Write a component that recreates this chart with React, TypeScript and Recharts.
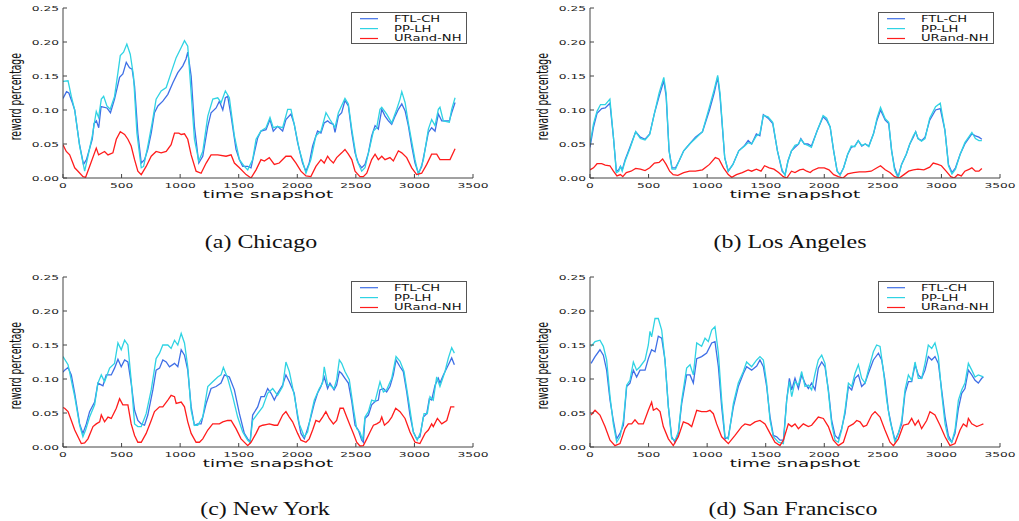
import { Legend, Line, LineChart, XAxis, YAxis } from "recharts";

type Pt = [number, number];

const xTicks = [0, 500, 1000, 1500, 2000, 2500, 3000, 3500];
const yTicks = [0, 0.05, 0.1, 0.15, 0.2, 0.25];
const seriesNames = ["FTL-CH", "PP-LH", "URand-NH"];
const seriesColors = ["#3f6fe6", "#2fd3e3", "#ff1c1c"];

// (a) Chicago
const chicagoFtl: Pt[] = [
  [0, 0.117], [30, 0.127], [50, 0.125], [75, 0.113], [100, 0.1], [140, 0.05], [175, 0.02], [200, 0.027],
  [250, 0.057], [265, 0.08], [285, 0.084], [305, 0.074], [325, 0.105], [375, 0.103], [405, 0.096], [440, 0.116],
  [483, 0.148], [511, 0.153], [540, 0.17], [568, 0.162], [590, 0.16], [611, 0.135], [639, 0.066], [668, 0.022],
  [696, 0.027], [724, 0.042], [753, 0.066], [781, 0.096], [810, 0.106], [852, 0.113], [895, 0.123], [938, 0.14],
  [980, 0.155], [1023, 0.165], [1050, 0.175], [1065, 0.185], [1094, 0.15], [1122, 0.076], [1159, 0.022],
  [1193, 0.032], [1236, 0.076], [1264, 0.096], [1307, 0.103], [1335, 0.113], [1364, 0.1], [1386, 0.118],
  [1406, 0.12], [1435, 0.091], [1477, 0.042], [1506, 0.027], [1534, 0.017], [1577, 0.017], [1605, 0.015],
  [1633, 0.037], [1662, 0.059], [1690, 0.069], [1733, 0.071], [1767, 0.086], [1795, 0.069], [1832, 0.076],
  [1875, 0.069], [1903, 0.086], [1946, 0.094], [1974, 0.079], [2003, 0.052], [2045, 0.022], [2074, 0.01],
  [2102, 0.022], [2131, 0.047], [2173, 0.069], [2202, 0.066], [2230, 0.081], [2259, 0.084], [2279, 0.081],
  [2308, 0.079], [2322, 0.067], [2351, 0.091], [2379, 0.096], [2407, 0.114], [2436, 0.106], [2465, 0.067],
  [2493, 0.037], [2521, 0.022], [2550, 0.015], [2578, 0.02], [2607, 0.037], [2635, 0.062], [2664, 0.077],
  [2692, 0.072], [2721, 0.101], [2749, 0.091], [2778, 0.084], [2806, 0.079], [2835, 0.091], [2863, 0.101],
  [2892, 0.109], [2920, 0.099], [2948, 0.077], [2977, 0.047], [3005, 0.022], [3034, 0.007], [3062, 0.017],
  [3091, 0.042], [3119, 0.067], [3147, 0.074], [3176, 0.069], [3204, 0.094], [3233, 0.084], [3261, 0.084],
  [3298, 0.084], [3318, 0.096], [3347, 0.111],
];
const chicagoPp: Pt[] = [
  [0, 0.142], [43, 0.143], [71, 0.12], [100, 0.1], [142, 0.047], [185, 0.01], [213, 0.032], [250, 0.062],
  [284, 0.098], [304, 0.089], [327, 0.116], [347, 0.12], [375, 0.106], [403, 0.101], [440, 0.12], [469, 0.155],
  [489, 0.18], [517, 0.185], [545, 0.197], [574, 0.182], [602, 0.15], [631, 0.066], [668, 0.015], [688, 0.017],
  [724, 0.047], [761, 0.081], [795, 0.116], [838, 0.128], [881, 0.133], [923, 0.155], [966, 0.177], [1009, 0.192],
  [1037, 0.202], [1065, 0.194], [1094, 0.125], [1122, 0.057], [1159, 0.025], [1193, 0.039], [1236, 0.091],
  [1279, 0.116], [1321, 0.118], [1350, 0.111], [1386, 0.128], [1420, 0.118], [1463, 0.062], [1506, 0.027],
  [1548, 0.017], [1577, 0.012], [1619, 0.027], [1648, 0.057], [1690, 0.069], [1733, 0.074], [1767, 0.089],
  [1795, 0.074], [1832, 0.076], [1875, 0.074], [1918, 0.101], [1946, 0.101], [1974, 0.079], [2017, 0.042],
  [2074, 0.007], [2116, 0.027], [2159, 0.062], [2202, 0.069], [2245, 0.096], [2279, 0.086], [2322, 0.074],
  [2351, 0.096], [2407, 0.117], [2436, 0.109], [2465, 0.072], [2507, 0.027], [2550, 0.01], [2578, 0.015],
  [2621, 0.047], [2650, 0.069], [2678, 0.074], [2706, 0.101], [2721, 0.104], [2763, 0.094], [2806, 0.081],
  [2849, 0.101], [2877, 0.116], [2892, 0.127], [2920, 0.111], [2948, 0.081], [3005, 0.027], [3034, 0.005],
  [3077, 0.027], [3119, 0.072], [3147, 0.086], [3176, 0.077], [3204, 0.101], [3218, 0.104], [3247, 0.084],
  [3298, 0.082], [3318, 0.101], [3347, 0.118],
];
const chicagoUr: Pt[] = [
  [0, 0.049], [28, 0.039], [57, 0.034], [100, 0.015], [128, 0.01], [171, 0.002], [193, 0.001], [227, 0.017],
  [284, 0.044], [304, 0.034], [355, 0.039], [384, 0.034], [426, 0.037], [455, 0.057], [489, 0.068], [526, 0.064],
  [554, 0.057], [582, 0.047], [611, 0.027], [639, 0.01], [668, 0.005], [710, 0.017], [753, 0.032], [795, 0.039],
  [838, 0.037], [881, 0.039], [923, 0.049], [952, 0.066], [989, 0.066], [1009, 0.064], [1037, 0.065],
  [1065, 0.057], [1094, 0.034], [1136, 0.01], [1179, 0.007], [1222, 0.022], [1264, 0.034], [1321, 0.034],
  [1392, 0.032], [1435, 0.034], [1463, 0.022], [1506, 0.015], [1563, 0.005], [1605, 0.0], [1648, 0.012],
  [1690, 0.027], [1719, 0.025], [1761, 0.03], [1804, 0.02], [1846, 0.022], [1903, 0.032], [1946, 0.032],
  [1989, 0.022], [2031, 0.01], [2074, 0.003], [2116, 0.002], [2159, 0.017], [2202, 0.027], [2230, 0.022],
  [2259, 0.032], [2279, 0.027], [2308, 0.022], [2336, 0.03], [2379, 0.037], [2407, 0.042], [2436, 0.035],
  [2465, 0.027], [2493, 0.01], [2535, 0.002], [2564, 0.002], [2593, 0.007], [2635, 0.027], [2664, 0.035],
  [2692, 0.027], [2721, 0.032], [2749, 0.027], [2791, 0.03], [2820, 0.025], [2863, 0.04], [2892, 0.037],
  [2934, 0.03], [2977, 0.015], [3019, 0.005], [3062, 0.007], [3105, 0.02], [3147, 0.035], [3190, 0.035],
  [3218, 0.027], [3261, 0.027], [3304, 0.027], [3347, 0.043],
];

// (b) Los Angeles
const laFtl: Pt[] = [
  [0, 0.045], [30, 0.075], [60, 0.095], [100, 0.102], [130, 0.103], [170, 0.11], [200, 0.06], [225, 0.01],
  [245, 0.012], [260, 0.017], [275, 0.012], [300, 0.027], [340, 0.045], [390, 0.068], [430, 0.06], [470, 0.057],
  [510, 0.065], [550, 0.095], [590, 0.12], [630, 0.143], [650, 0.12], [675, 0.04], [700, 0.015], [730, 0.015],
  [760, 0.025], [800, 0.04], [850, 0.05], [900, 0.06], [960, 0.068], [1020, 0.1], [1060, 0.125], [1090, 0.148],
  [1110, 0.12], [1150, 0.03], [1180, 0.01], [1220, 0.02], [1270, 0.04], [1320, 0.048], [1350, 0.055],
  [1380, 0.05], [1420, 0.065], [1450, 0.062], [1480, 0.093], [1520, 0.088], [1560, 0.08], [1600, 0.04],
  [1640, 0.01], [1665, 0.005], [1690, 0.025], [1720, 0.04], [1750, 0.045], [1780, 0.05], [1800, 0.058],
  [1830, 0.05], [1860, 0.05], [1890, 0.047], [1940, 0.07], [1990, 0.09], [2020, 0.085], [2050, 0.075],
  [2080, 0.04], [2110, 0.01], [2135, 0.005], [2165, 0.015], [2200, 0.035], [2230, 0.045], [2260, 0.047],
  [2290, 0.055], [2320, 0.047], [2350, 0.05], [2380, 0.047], [2420, 0.065], [2450, 0.085], [2480, 0.1],
  [2520, 0.085], [2550, 0.08], [2575, 0.04], [2600, 0.015], [2630, 0.002], [2660, 0.02], [2700, 0.035],
  [2730, 0.05], [2760, 0.06], [2780, 0.068], [2800, 0.058], [2830, 0.055], [2860, 0.06], [2900, 0.085],
  [2950, 0.1], [2990, 0.102], [3030, 0.07], [3060, 0.02], [3090, 0.008], [3120, 0.015], [3160, 0.035],
  [3200, 0.05], [3240, 0.06], [3260, 0.065], [3290, 0.062], [3320, 0.06], [3345, 0.057],
];
const laPp: Pt[] = [
  [0, 0.05], [30, 0.08], [60, 0.098], [90, 0.108], [130, 0.108], [170, 0.116], [200, 0.06], [225, 0.008],
  [245, 0.01], [260, 0.017], [275, 0.01], [300, 0.025], [340, 0.043], [390, 0.068], [430, 0.058], [470, 0.056],
  [510, 0.064], [550, 0.095], [590, 0.125], [630, 0.148], [650, 0.125], [675, 0.04], [700, 0.013], [730, 0.013],
  [760, 0.025], [800, 0.04], [850, 0.05], [900, 0.058], [960, 0.068], [1020, 0.105], [1060, 0.13], [1090, 0.151],
  [1110, 0.125], [1150, 0.03], [1180, 0.01], [1220, 0.02], [1270, 0.04], [1320, 0.047], [1350, 0.052],
  [1380, 0.05], [1420, 0.062], [1450, 0.065], [1480, 0.092], [1520, 0.09], [1560, 0.082], [1600, 0.04],
  [1640, 0.012], [1665, 0.004], [1690, 0.025], [1720, 0.04], [1750, 0.048], [1780, 0.05], [1800, 0.057],
  [1830, 0.05], [1860, 0.048], [1890, 0.045], [1940, 0.07], [1990, 0.092], [2020, 0.088], [2050, 0.075],
  [2080, 0.04], [2110, 0.01], [2135, 0.004], [2165, 0.015], [2200, 0.035], [2230, 0.047], [2260, 0.046],
  [2290, 0.055], [2320, 0.048], [2350, 0.05], [2380, 0.046], [2420, 0.065], [2450, 0.088], [2480, 0.104],
  [2520, 0.087], [2550, 0.082], [2575, 0.04], [2600, 0.012], [2630, 0.0], [2660, 0.02], [2700, 0.035],
  [2730, 0.05], [2760, 0.062], [2780, 0.068], [2800, 0.058], [2830, 0.054], [2860, 0.058], [2900, 0.088],
  [2950, 0.105], [2990, 0.11], [3030, 0.07], [3060, 0.018], [3090, 0.006], [3120, 0.013], [3160, 0.035],
  [3200, 0.052], [3240, 0.062], [3260, 0.067], [3290, 0.058], [3320, 0.055], [3345, 0.055],
];
const laUr: Pt[] = [
  [0, 0.012], [30, 0.015], [60, 0.021], [100, 0.021], [130, 0.019], [170, 0.018], [200, 0.01], [230, 0.003],
  [260, 0.005], [280, 0.002], [310, 0.008], [350, 0.01], [390, 0.014], [430, 0.013], [470, 0.011], [510, 0.015],
  [550, 0.022], [590, 0.023], [620, 0.028], [650, 0.02], [680, 0.01], [710, 0.005], [750, 0.004], [800, 0.008],
  [850, 0.01], [900, 0.01], [960, 0.012], [1020, 0.02], [1070, 0.03], [1100, 0.028], [1140, 0.015],
  [1180, 0.005], [1210, 0.001], [1250, 0.005], [1300, 0.008], [1350, 0.012], [1380, 0.01], [1420, 0.013],
  [1460, 0.01], [1490, 0.018], [1530, 0.015], [1570, 0.013], [1610, 0.008], [1650, 0.002], [1680, 0.0],
  [1720, 0.01], [1750, 0.008], [1790, 0.012], [1820, 0.013], [1850, 0.01], [1880, 0.008], [1900, 0.011],
  [1950, 0.015], [2000, 0.015], [2040, 0.012], [2080, 0.005], [2120, 0.002], [2160, 0.0], [2200, 0.006],
  [2250, 0.008], [2300, 0.009], [2350, 0.009], [2400, 0.01], [2450, 0.015], [2480, 0.018], [2520, 0.012],
  [2560, 0.008], [2600, 0.002], [2640, 0.0], [2680, 0.005], [2720, 0.01], [2760, 0.012], [2800, 0.013],
  [2850, 0.012], [2900, 0.016], [2930, 0.022], [2970, 0.02], [3000, 0.018], [3040, 0.01], [3080, 0.002],
  [3110, 0.0], [3140, 0.005], [3170, 0.003], [3200, 0.01], [3240, 0.013], [3260, 0.015], [3290, 0.01],
  [3320, 0.01], [3345, 0.014],
];

// (c) New York
const nyFtl: Pt[] = [
  [0, 0.11], [14, 0.113], [43, 0.117], [71, 0.106], [100, 0.079], [142, 0.034], [170, 0.02], [199, 0.034],
  [227, 0.052], [270, 0.066], [298, 0.094], [341, 0.09], [369, 0.106], [412, 0.106], [440, 0.116], [469, 0.129],
  [497, 0.118], [526, 0.128], [554, 0.125], [582, 0.094], [611, 0.054], [639, 0.039], [668, 0.034], [696, 0.032],
  [724, 0.047], [767, 0.084], [795, 0.113], [824, 0.116], [852, 0.128], [881, 0.125], [909, 0.118], [952, 0.123],
  [980, 0.118], [1009, 0.143], [1037, 0.135], [1065, 0.113], [1094, 0.059], [1122, 0.032], [1150, 0.034],
  [1179, 0.034], [1222, 0.064], [1264, 0.086], [1307, 0.089], [1349, 0.094], [1378, 0.106], [1420, 0.103],
  [1463, 0.084], [1506, 0.049], [1548, 0.02], [1577, 0.012], [1597, 0.007], [1619, 0.047], [1662, 0.059],
  [1690, 0.074], [1719, 0.074], [1747, 0.086], [1776, 0.079], [1804, 0.069], [1832, 0.079], [1875, 0.091],
  [1903, 0.106], [1932, 0.096], [1974, 0.079], [2003, 0.044], [2031, 0.02], [2060, 0.012], [2088, 0.027],
  [2116, 0.044], [2145, 0.064], [2173, 0.079], [2202, 0.089], [2230, 0.103], [2259, 0.086], [2279, 0.094],
  [2314, 0.084], [2336, 0.091], [2359, 0.111], [2379, 0.108], [2407, 0.101], [2436, 0.094], [2465, 0.067],
  [2493, 0.032], [2521, 0.025], [2550, 0.01], [2564, 0.007], [2578, 0.042], [2607, 0.047], [2635, 0.062],
  [2664, 0.067], [2692, 0.069], [2706, 0.084], [2735, 0.086], [2763, 0.081], [2791, 0.089], [2820, 0.106],
  [2843, 0.128], [2877, 0.118], [2905, 0.111], [2934, 0.081], [2962, 0.047], [2991, 0.022], [3019, 0.012],
  [3047, 0.015], [3076, 0.044], [3105, 0.049], [3127, 0.071], [3147, 0.069], [3176, 0.091], [3204, 0.101],
  [3218, 0.094], [3247, 0.106], [3290, 0.121], [3318, 0.131], [3341, 0.121],
];
const nyPp: Pt[] = [
  [0, 0.133], [43, 0.121], [71, 0.098], [100, 0.074], [142, 0.032], [170, 0.015], [193, 0.025], [227, 0.044],
  [270, 0.062], [298, 0.094], [327, 0.106], [355, 0.096], [398, 0.116], [440, 0.123], [469, 0.153], [497, 0.143],
  [526, 0.157], [554, 0.15], [582, 0.098], [611, 0.034], [639, 0.03], [668, 0.03], [710, 0.049], [753, 0.084],
  [795, 0.13], [824, 0.138], [852, 0.15], [895, 0.15], [923, 0.145], [952, 0.157], [980, 0.15], [1009, 0.167],
  [1037, 0.153], [1065, 0.118], [1094, 0.054], [1122, 0.032], [1150, 0.032], [1193, 0.044], [1236, 0.089],
  [1278, 0.096], [1321, 0.103], [1349, 0.106], [1369, 0.117], [1406, 0.101], [1449, 0.074], [1491, 0.044],
  [1534, 0.022], [1577, 0.01], [1597, 0.007], [1619, 0.039], [1662, 0.049], [1705, 0.059], [1747, 0.079],
  [1790, 0.086], [1832, 0.076], [1875, 0.089], [1903, 0.125], [1932, 0.111], [1974, 0.076], [2017, 0.034],
  [2060, 0.015], [2088, 0.022], [2116, 0.047], [2145, 0.069], [2188, 0.086], [2216, 0.094], [2230, 0.118],
  [2259, 0.091], [2279, 0.091], [2314, 0.086], [2336, 0.099], [2359, 0.128], [2379, 0.123], [2407, 0.111],
  [2444, 0.099], [2479, 0.057], [2507, 0.027], [2535, 0.022], [2558, 0.01], [2578, 0.044], [2607, 0.052],
  [2635, 0.069], [2664, 0.067], [2706, 0.096], [2735, 0.081], [2763, 0.084], [2806, 0.101], [2843, 0.133],
  [2877, 0.126], [2911, 0.111], [2948, 0.071], [2991, 0.022], [3024, 0.01], [3053, 0.022], [3082, 0.049],
  [3110, 0.049], [3133, 0.074], [3161, 0.069], [3190, 0.103], [3218, 0.089], [3261, 0.111], [3290, 0.131],
  [3318, 0.146], [3341, 0.138],
];
const nyUr: Pt[] = [
  [0, 0.058], [14, 0.057], [43, 0.052], [71, 0.039], [100, 0.025], [128, 0.015], [156, 0.005], [185, 0.006],
  [213, 0.012], [256, 0.03], [284, 0.034], [313, 0.037], [327, 0.047], [355, 0.037], [384, 0.044], [412, 0.042],
  [455, 0.057], [483, 0.071], [511, 0.062], [554, 0.062], [582, 0.034], [611, 0.017], [639, 0.007], [668, 0.007],
  [710, 0.02], [753, 0.039], [781, 0.052], [824, 0.059], [852, 0.059], [895, 0.069], [923, 0.076], [952, 0.074],
  [966, 0.064], [1009, 0.066], [1037, 0.059], [1065, 0.037], [1094, 0.02], [1136, 0.007], [1165, 0.007],
  [1193, 0.012], [1236, 0.025], [1278, 0.034], [1335, 0.034], [1364, 0.037], [1406, 0.039], [1435, 0.039],
  [1477, 0.027], [1520, 0.012], [1577, 0.002], [1605, 0.007], [1648, 0.02], [1676, 0.03], [1705, 0.032],
  [1733, 0.033], [1761, 0.034], [1804, 0.032], [1832, 0.032], [1875, 0.047], [1903, 0.052], [1932, 0.044],
  [1960, 0.037], [2003, 0.02], [2031, 0.01], [2074, 0.007], [2102, 0.012], [2131, 0.025], [2159, 0.039],
  [2188, 0.037], [2216, 0.044], [2244, 0.052], [2273, 0.042], [2308, 0.034], [2336, 0.039], [2365, 0.057],
  [2393, 0.057], [2422, 0.044], [2450, 0.032], [2479, 0.02], [2507, 0.007], [2535, 0.0015], [2564, 0.002],
  [2593, 0.012], [2621, 0.022], [2650, 0.032], [2678, 0.034], [2706, 0.037], [2721, 0.044], [2744, 0.032],
  [2778, 0.037], [2806, 0.044], [2840, 0.057], [2877, 0.052], [2920, 0.042], [2962, 0.022], [3005, 0.007],
  [3047, 0.005], [3091, 0.02], [3119, 0.025], [3147, 0.034], [3161, 0.03], [3196, 0.042], [3233, 0.034],
  [3276, 0.039], [3310, 0.059], [3341, 0.059],
];

// (d) San Francisco
const sfFtl: Pt[] = [
  [9, 0.123], [43, 0.133], [85, 0.143], [114, 0.135], [142, 0.113], [171, 0.069], [199, 0.039], [228, 0.012],
  [256, 0.02], [285, 0.032], [313, 0.089], [341, 0.094], [370, 0.113], [398, 0.103], [427, 0.113], [470, 0.113],
  [498, 0.13], [526, 0.143], [555, 0.14], [583, 0.163], [612, 0.16], [640, 0.128], [669, 0.059], [697, 0.015],
  [726, 0.007], [754, 0.02], [783, 0.064], [825, 0.106], [854, 0.106], [882, 0.094], [911, 0.13], [953, 0.133],
  [996, 0.138], [1039, 0.153], [1067, 0.155], [1096, 0.118], [1124, 0.059], [1153, 0.012], [1181, 0.015],
  [1224, 0.059], [1266, 0.089], [1309, 0.108], [1337, 0.118], [1380, 0.113], [1423, 0.119], [1451, 0.128],
  [1480, 0.118], [1508, 0.089], [1537, 0.044], [1565, 0.017], [1594, 0.015], [1622, 0.01], [1651, 0.01],
  [1679, 0.069], [1702, 0.101], [1722, 0.084], [1750, 0.101], [1779, 0.086], [1807, 0.106], [1835, 0.094],
  [1864, 0.086], [1892, 0.094], [1921, 0.084], [1949, 0.116], [1978, 0.125], [2006, 0.118], [2035, 0.084],
  [2063, 0.039], [2092, 0.017], [2120, 0.012], [2148, 0.027], [2177, 0.049], [2206, 0.089], [2234, 0.084],
  [2262, 0.101], [2291, 0.106], [2319, 0.089], [2348, 0.094], [2376, 0.108], [2419, 0.128], [2462, 0.138],
  [2490, 0.128], [2518, 0.098], [2547, 0.054], [2575, 0.03], [2604, 0.01], [2632, 0.02], [2661, 0.034],
  [2689, 0.079], [2718, 0.096], [2746, 0.096], [2775, 0.121], [2803, 0.106], [2831, 0.101], [2860, 0.113],
  [2888, 0.133], [2917, 0.128], [2945, 0.133], [2974, 0.123], [3002, 0.084], [3031, 0.044], [3059, 0.017],
  [3088, 0.007], [3116, 0.02], [3145, 0.057], [3173, 0.079], [3201, 0.086], [3230, 0.113], [3259, 0.106],
  [3287, 0.098], [3315, 0.094], [3344, 0.101], [3358, 0.103],
];
const sfPp: Pt[] = [
  [9, 0.148], [43, 0.155], [85, 0.157], [114, 0.148], [142, 0.128], [171, 0.074], [199, 0.034], [228, 0.007],
  [256, 0.015], [285, 0.039], [313, 0.091], [341, 0.098], [370, 0.125], [398, 0.113], [427, 0.118], [470, 0.128],
  [498, 0.15], [512, 0.17], [526, 0.162], [555, 0.189], [583, 0.189], [612, 0.172], [640, 0.128], [669, 0.059],
  [697, 0.012], [726, 0.01], [754, 0.022], [783, 0.069], [825, 0.116], [854, 0.121], [882, 0.106], [911, 0.153],
  [953, 0.148], [982, 0.16], [1010, 0.155], [1039, 0.172], [1067, 0.177], [1096, 0.138], [1124, 0.069],
  [1153, 0.015], [1181, 0.012], [1224, 0.064], [1266, 0.094], [1309, 0.111], [1337, 0.125], [1380, 0.118],
  [1423, 0.128], [1451, 0.133], [1480, 0.128], [1508, 0.094], [1537, 0.039], [1565, 0.015], [1608, 0.007],
  [1651, 0.005], [1679, 0.069], [1702, 0.096], [1722, 0.074], [1750, 0.096], [1779, 0.091], [1807, 0.111],
  [1835, 0.089], [1864, 0.091], [1892, 0.084], [1921, 0.108], [1949, 0.128], [1978, 0.135], [2006, 0.123],
  [2035, 0.081], [2063, 0.034], [2092, 0.01], [2120, 0.007], [2148, 0.025], [2177, 0.054], [2206, 0.094],
  [2234, 0.089], [2262, 0.108], [2291, 0.121], [2319, 0.101], [2348, 0.094], [2376, 0.113], [2419, 0.14],
  [2447, 0.15], [2476, 0.148], [2504, 0.113], [2533, 0.069], [2561, 0.039], [2604, 0.007], [2632, 0.02],
  [2661, 0.039], [2689, 0.084], [2718, 0.106], [2746, 0.098], [2775, 0.125], [2803, 0.101], [2831, 0.101],
  [2860, 0.123], [2888, 0.15], [2917, 0.145], [2945, 0.153], [2974, 0.133], [3002, 0.079], [3031, 0.034],
  [3059, 0.012], [3088, 0.007], [3116, 0.025], [3145, 0.069], [3173, 0.084], [3201, 0.094], [3230, 0.123],
  [3259, 0.113], [3287, 0.103], [3315, 0.106], [3358, 0.103],
];
const sfUr: Pt[] = [
  [9, 0.047], [43, 0.054], [85, 0.047], [128, 0.03], [171, 0.01], [213, 0.002], [256, 0.005], [299, 0.027],
  [327, 0.034], [356, 0.034], [384, 0.04], [413, 0.034], [455, 0.034], [498, 0.054], [526, 0.066], [541, 0.054],
  [569, 0.057], [598, 0.052], [626, 0.03], [669, 0.012], [711, 0.002], [754, 0.015], [797, 0.037], [840, 0.034],
  [868, 0.03], [911, 0.054], [953, 0.052], [996, 0.052], [1024, 0.054], [1053, 0.049], [1081, 0.034],
  [1124, 0.015], [1181, 0.005], [1238, 0.017], [1295, 0.03], [1323, 0.034], [1366, 0.032], [1409, 0.037],
  [1451, 0.039], [1494, 0.034], [1537, 0.02], [1579, 0.007], [1622, 0.002], [1651, 0.01], [1693, 0.034],
  [1722, 0.03], [1750, 0.034], [1779, 0.027], [1821, 0.034], [1864, 0.03], [1892, 0.032], [1949, 0.044],
  [1992, 0.042], [2035, 0.03], [2077, 0.01], [2120, 0.002], [2163, 0.007], [2206, 0.03], [2248, 0.034],
  [2277, 0.039], [2305, 0.037], [2334, 0.03], [2362, 0.032], [2405, 0.047], [2433, 0.052], [2476, 0.044],
  [2518, 0.025], [2561, 0.007], [2590, 0.002], [2632, 0.012], [2675, 0.032], [2718, 0.034], [2746, 0.042],
  [2775, 0.032], [2803, 0.039], [2831, 0.027], [2874, 0.039], [2902, 0.052], [2945, 0.047], [2988, 0.032],
  [3031, 0.015], [3073, 0.002], [3116, 0.005], [3159, 0.025], [3187, 0.034], [3216, 0.03], [3230, 0.042],
  [3259, 0.034], [3302, 0.03], [3330, 0.032], [3358, 0.034],
];

const rows = (pts: Pt[]) => pts.map(([x, y]) => ({ x, y }));

const tickFont = "DejaVu Sans, sans-serif";

function XTick({ x, y, payload }: any) {
  return (
    <text transform={`translate(${x},${y + 9.7}) scale(1.75,1)`} textAnchor="middle"
      fontSize={7} fontFamily={tickFont} fill="#222">
      {payload.value}
    </text>
  );
}

function YTick({ x, y, payload }: any) {
  return (
    <text transform={`translate(${x},${y + 2.5}) scale(1.75,1)`} textAnchor="end"
      fontSize={7} fontFamily={tickFont} fill="#222">
      {Number(payload.value).toFixed(2)}
    </text>
  );
}

function XTitle() {
  return (
    <text transform="translate(268,198.3) scale(1.66,1)" textAnchor="middle"
      fontSize={11} fontFamily={tickFont} fill="#111">
      time snapshot
    </text>
  );
}

function YTitle() {
  return (
    <text transform="translate(21,96.7) scale(1.65,1) rotate(-90)" textAnchor="middle"
      fontSize={9.2} fontFamily={tickFont} fill="#111">
      reward percentage
    </text>
  );
}

function LegendBox() {
  return (
    <svg width={116} height={32} style={{ display: "block" }}>
      <rect x={0.5} y={0.5} width={115} height={31} fill="#fff" stroke="#555" />
      {seriesNames.map((name, i) => (
        <g key={name}>
          <line x1={9} x2={27} y1={6.7 + i * 9.9} y2={6.7 + i * 9.9} stroke={seriesColors[i]} strokeWidth={1.2} />
          <text transform={`translate(43,${9.6 + i * 9.9}) scale(1.6,1)`} fontSize={8.2}
            fontFamily={tickFont} fill="#111">
            {name}
          </text>
        </g>
      ))}
    </svg>
  );
}

function Panel({ series, left, top }: { series: Pt[][]; left: number; top: number }) {
  return (
    <div style={{ position: "absolute", left, top }}>
      <LineChart width={500} height={205} margin={{ top: 8, right: 27, bottom: 0, left: 0 }}>
        <XAxis xAxisId="b" type="number" dataKey="x" domain={[0, 3500]} ticks={xTicks} interval={0}
          allowDataOverflow height={27} tickSize={-4} tickMargin={4} stroke="#444"
          tick={<XTick />} label={<XTitle />} />
        <XAxis xAxisId="t" orientation="top" type="number" dataKey="x" domain={[0, 3500]} ticks={xTicks}
          interval={0} allowDataOverflow height={0} tickSize={-4} tick={false} stroke="#444" />
        <YAxis yAxisId="l" type="number" domain={[0, 0.25]} ticks={yTicks} interval={0} allowDataOverflow
          width={63} tickSize={-4} tickMargin={8} stroke="#444" tick={<YTick />} label={<YTitle />} />
        <YAxis yAxisId="r" orientation="right" type="number" domain={[0, 0.25]} ticks={yTicks} interval={0}
          allowDataOverflow width={0} tickSize={-4} tick={false} stroke="#444" />
        {series.map((pts, i) => (
          <Line key={seriesNames[i]} xAxisId="b" yAxisId="l" data={rows(pts)} dataKey="y" name={seriesNames[i]}
            type="linear" stroke={seriesColors[i]} strokeWidth={1.3} dot={false} activeDot={false}
            isAnimationActive={false} />
        ))}
        <Legend layout="horizontal" verticalAlign="middle" align="center" content={<LegendBox />}
          wrapperStyle={{ left: 351, top: 12, width: 116, height: 32 }} />
      </LineChart>
    </div>
  );
}

function Caption({ text, cx, baseline }: { text: string; cx: number; baseline: number }) {
  return (
    <svg width={300} height={30} style={{ position: "absolute", left: cx - 150, top: baseline - 22 }}>
      <text transform="translate(150,22) scale(1.26,1)" textAnchor="middle" fontSize={19}
        fontFamily="Liberation Serif, Times New Roman, serif" fill="#111">
        {text}
      </text>
    </svg>
  );
}

export default function App() {
  return (
    <div style={{ position: "absolute", left: 0, top: 0, width: 1019, height: 521, background: "#fff", overflow: "hidden" }}>
      <Panel series={[chicagoFtl, chicagoPp, chicagoUr]} left={0} top={0} />
      <Panel series={[laFtl, laPp, laUr]} left={527} top={0} />
      <Panel series={[nyFtl, nyPp, nyUr]} left={0} top={269} />
      <Panel series={[sfFtl, sfPp, sfUr]} left={527} top={269} />
      <Caption text="(a) Chicago" cx={261} baseline={248} />
      <Caption text="(b) Los Angeles" cx={790} baseline={248} />
      <Caption text="(c) New York" cx={265} baseline={515} />
      <Caption text="(d) San Francisco" cx={793} baseline={515} />
    </div>
  );
}
